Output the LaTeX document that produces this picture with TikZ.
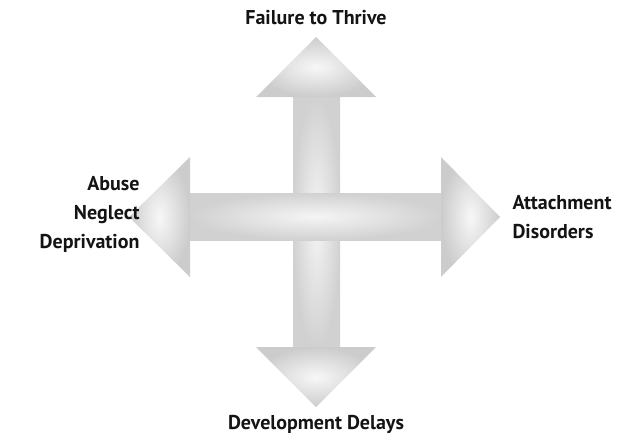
\documentclass[tikz,border=0pt]{standalone}
\usepackage{fontspec}
\setmainfont{PT Sans}
\usepackage{xcolor}
\usetikzlibrary{shapes}

\tikzset{
  shaft/.style={inner color=gray!8, outer color=gray!36},
  head/.style={inner color=gray!6, outer color=gray!40},
  label/.style={font=\fontsize{20}{29}\selectfont\bfseries, text=black!92}
}

\begin{document}
\begin{tikzpicture}[x=1pt,y=-1pt]
\useasboundingbox (0,0) rectangle (629,439);
% Schaefte
\shade[shaft] (293,97) rectangle (340,347);
\shade[shaft] (190,193) rectangle (441,240);
% Spitzen
\shade[head] (256,97) -- (376,97) -- (316,37) -- cycle;
\shade[head] (256,347) -- (376,347) -- (316,407) -- cycle;
\shade[head] (190,157) -- (190,277) -- (129,217) -- cycle;
\shade[head] (441,157) -- (441,277) -- (500,217) -- cycle;

\node[label] (failure) at (316,18) {Failure to Thrive};
\node[label] (delays) at (316,424) {Development Delays};
\node[label, anchor=east, align=right] (abuse) at (143,214) {Abuse\\Neglect\\Deprivation};
\node[label, anchor=west, align=left] (attach) at (509,217) {Attachment\\Disorders};
\end{tikzpicture}
\end{document}
